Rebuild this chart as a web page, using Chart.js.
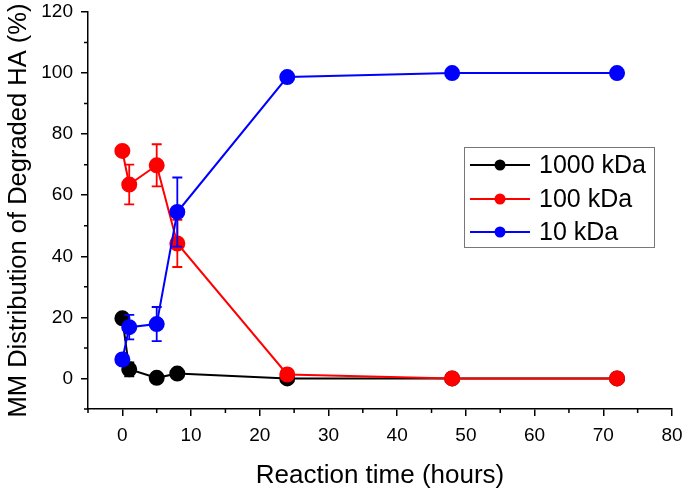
<!DOCTYPE html>
<html>
<head>
<meta charset="utf-8">
<script src="https://cdn.jsdelivr.net/npm/chart.js@4.4.0/dist/chart.umd.min.js"></script>
<style>
  html, body { margin: 0; padding: 0; background: #fff; }
  #wrap { width: 685px; height: 489px; }
</style>
</head>
<body>
<div id="wrap"><canvas id="mmChart" width="685" height="489"></canvas></div>
<script>
// reaction time (hours)
const times = [0, 1, 5, 8, 24, 48, 72];

const seriesNames = ['1000 kDa', '100 kDa', '10 kDa'];
const seriesColors = ['#000000', '#ff0000', '#0000ff'];

// MM distribution (%)
const kDa1000 = [19.7, 3.0, 0.2, 1.6, 0.0, 0.0, 0.0];
const kDa100 = [74.5, 63.5, 69.8, 44.2, 1.3, 0.0, 0.0];
const kDa10 = [6.2, 16.8, 17.8, 54.5, 98.7, 100.0, 100.0];

// error (+/-)
const err1000 = [1.5, 2.3, 0, 0, 0, 0, 0];
const err100 = [0, 6.5, 6.9, 7.7, 0, 0, 0];
const err10 = [1.5, 4.0, 5.6, 11.3, 1.5, 0, 0];

const xMajor = [0, 10, 20, 30, 40, 50, 60, 70, 80];
const xMinor = [-5, 5, 15, 25, 35, 45, 55, 65, 75];
const yMajor = [0, 20, 40, 60, 80, 100, 120];
const yMinor = [-10, 10, 30, 50, 70, 90, 110];

const FONT = "'Liberation Sans', Arial, sans-serif";

function toPoints(values) {
    return values.map((v, i) => ({ x: times[i], y: v }));
}

const allValues = [kDa1000, kDa100, kDa10];
const allErrors = [err1000, err100, err10];

const datasets = allValues.map((vals, i) => ({
    label: seriesNames[i],
    data: toPoints(vals),
    errors: allErrors[i],
    borderColor: seriesColors[i],
    backgroundColor: seriesColors[i],
    pointBackgroundColor: seriesColors[i],
    pointBorderColor: seriesColors[i],
    pointRadius: 7,
    pointHoverRadius: 7,
    borderWidth: 2,
    showLine: true,
    tension: 0,
    order: 2 - i
}));

// error bars drawn right after each dataset
const errorBars = {
    id: 'errorBars',
    afterDatasetDraw(chart, args) {
        const ds = chart.data.datasets[args.index];
        const ctx = chart.ctx;
        const xs = chart.scales.x;
        const ys = chart.scales.y;
        ctx.save();
        ctx.strokeStyle = ds.borderColor;
        ctx.lineWidth = 1.8;
        ds.data.forEach((p, j) => {
            const e = ds.errors[j];
            if (!e) return;
            const px = xs.getPixelForValue(p.x);
            const top = ys.getPixelForValue(p.y + e);
            const bot = ys.getPixelForValue(p.y - e);
            ctx.beginPath();
            ctx.moveTo(px, top); ctx.lineTo(px, bot);
            ctx.moveTo(px - 5, top); ctx.lineTo(px + 5, top);
            ctx.moveTo(px - 5, bot); ctx.lineTo(px + 5, bot);
            ctx.stroke();
        });
        ctx.restore();
    }
};

// minor tick marks
const minorTicks = {
    id: 'minorTicks',
    afterDraw(chart) {
        const ctx = chart.ctx;
        const xs = chart.scales.x;
        const ys = chart.scales.y;
        const area = chart.chartArea;
        ctx.save();
        ctx.strokeStyle = '#000';
        ctx.lineWidth = 1.5;
        ctx.beginPath();
        xMinor.forEach(v => {
            const px = xs.getPixelForValue(v);
            ctx.moveTo(px, area.bottom); ctx.lineTo(px, area.bottom + 4);
        });
        yMinor.forEach(v => {
            const py = ys.getPixelForValue(v);
            ctx.moveTo(area.left, py); ctx.lineTo(area.left - 4, py);
        });
        ctx.stroke();
        ctx.restore();
    }
};

// boxed legend with line + marker
const boxLegend = {
    id: 'boxLegend',
    afterDraw(chart) {
        const ctx = chart.ctx;
        const bx = 464, by = 147, bw = 190, bh = 100;
        ctx.save();
        ctx.strokeStyle = '#777';
        ctx.lineWidth = 1;
        ctx.strokeRect(bx + 0.5, by + 0.5, bw, bh);
        ctx.font = '25px ' + FONT;
        ctx.textBaseline = 'middle';
        ctx.textAlign = 'left';
        const rows = [165, 199, 232];
        seriesNames.forEach((name, i) => {
            const y = rows[i];
            ctx.strokeStyle = seriesColors[i];
            ctx.fillStyle = seriesColors[i];
            ctx.lineWidth = 2;
            ctx.beginPath();
            ctx.moveTo(470, y); ctx.lineTo(530, y);
            ctx.stroke();
            ctx.beginPath();
            ctx.arc(500, y, 5.5, 0, Math.PI * 2);
            ctx.fill();
            ctx.fillStyle = '#000';
            ctx.fillText(name, 539, y + 1);
        });
        ctx.restore();
    }
};

function noPad(s) {
    s.paddingLeft = 0; s.paddingRight = 0;
    s.paddingTop = 0; s.paddingBottom = 0;
}

const ctx = document.getElementById('mmChart').getContext('2d');
new Chart(ctx, {
    type: 'scatter',
    data: { datasets: datasets },
    options: {
        responsive: false,
        animation: false,
        layout: { padding: { left: 0, right: 13, top: 12, bottom: 0 } },
        plugins: {
            legend: { display: false },
            tooltip: { enabled: false }
        },
        scales: {
            x: {
                type: 'linear',
                min: -5,
                max: 80,
                afterBuildTicks: s => { s.ticks = xMajor.map(v => ({ value: v })); },
                afterFit: s => { s.height = 80; noPad(s); },
                border: { display: true, color: '#000', width: 1.5 },
                grid: { drawOnChartArea: false, color: '#000', lineWidth: 1.5, tickLength: 7 },
                ticks: { color: '#000', padding: 8, maxRotation: 0, font: { family: FONT, size: 19 } },
                title: {
                    display: true,
                    text: 'Reaction time (hours)',
                    color: '#000',
                    font: { family: FONT, size: 26 },
                    padding: { top: 0, bottom: -2 }
                }
            },
            y: {
                type: 'linear',
                min: -10,
                max: 120,
                afterBuildTicks: s => { s.ticks = yMajor.map(v => ({ value: v })); },
                afterFit: s => { s.width = 88; noPad(s); },
                border: { display: true, color: '#000', width: 1.5 },
                grid: { drawOnChartArea: false, color: '#000', lineWidth: 1.5, tickLength: 7 },
                ticks: { color: '#000', padding: 8, font: { family: FONT, size: 19 } },
                title: {
                    display: true,
                    text: 'MM Distribution of Degraded HA (%)',
                    color: '#000',
                    font: { family: FONT, size: 25.5 },
                    padding: { top: 4, bottom: 0 }
                }
            }
        }
    },
    plugins: [errorBars, minorTicks, boxLegend]
});
</script>
</body>
</html>
